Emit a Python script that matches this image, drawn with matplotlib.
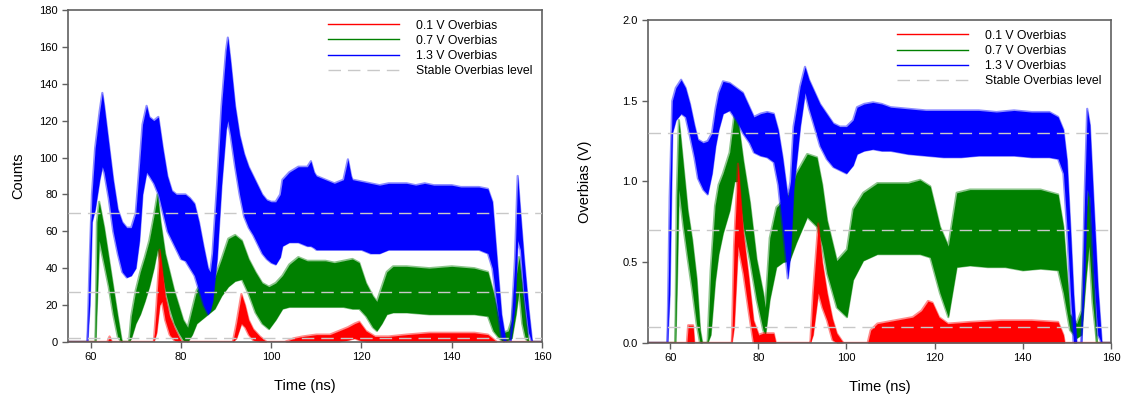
import matplotlib
matplotlib.use("Agg")
import matplotlib.pyplot as plt
from matplotlib.lines import Line2D

plt.rcParams['font.family'] = ['Liberation Sans', 'DejaVu Sans']

labels = ['0.1 V Overbias', '0.7 V Overbias', '1.3 V Overbias', 'Stable Overbias level']
colors = ['#ff0000', '#008000', '#0000ff']

# ---- left panel: counts (envelopes of the noisy traces, lower / upper) ----
t_c13 = [55, 59.3, 59.8, 60.3, 61, 62, 62.6, 63, 64, 65, 66, 67, 68, 69, 70, 70.8, 71.5, 72.4, 73, 74,
         75, 76, 77, 78, 79, 80, 81, 82, 83, 84, 85, 86, 86.5, 87, 88, 89, 90, 90.4, 91, 92,
         93, 94, 95, 96, 97, 98, 99, 100, 101, 102, 102.5, 104, 106, 108, 108.8, 109.5, 110, 112, 114, 116,
         117, 117.7, 118, 120, 122, 124, 126, 128, 130, 132, 134, 136, 138, 140, 142, 144, 146, 148, 149, 150,
         151, 152, 153, 154, 154.6, 155.2, 156, 157, 157.8, 160]
hi_c13 = [0, 0, 45, 80, 105, 125, 135, 128, 108, 88, 72, 65, 62, 62, 70, 95, 118, 128, 122, 120,
          122, 105, 90, 82, 80, 80, 80, 78, 75, 65, 52, 40, 38, 48, 85, 128, 158, 165, 152, 128,
          112, 102, 95, 90, 85, 80, 77, 76, 76, 80, 88, 92, 95, 95, 98, 92, 90, 88, 86, 88,
          99, 90, 88, 87, 86, 85, 86, 86, 86, 85, 86, 85, 85, 85, 84, 84, 84, 83, 76, 45,
          15, 0, 0, 45, 90, 70, 45, 18, 0, 0]
lo_c13 = [0, 0, 20, 65, 72, 88, 95, 92, 78, 60, 48, 38, 35, 36, 40, 55, 80, 92, 90, 86,
          80, 70, 60, 55, 50, 45, 44, 40, 36, 28, 20, 15, 17, 22, 45, 85, 115, 120, 112, 95,
          80, 68, 62, 58, 53, 48, 45, 43, 42, 46, 52, 54, 54, 52, 52, 51, 50, 50, 50, 50,
          50, 50, 50, 50, 48, 48, 50, 50, 50, 50, 50, 50, 50, 50, 50, 50, 50, 48, 40, 20,
          2, 0, 0, 20, 55, 50, 25, 5, 0, 0]

t_c07 = [55, 61.1, 61.4, 61.9, 63, 64, 65, 66, 66.8, 67, 68.5, 69, 70, 71, 72, 73, 74, 74.8, 75.5, 76.5,
         77.5, 78.5, 79.5, 80.5, 81.5, 82.5, 83.5, 84.5, 86, 87.5, 89, 90.5, 92, 93.5, 95, 96.5, 98, 99.5, 101, 102.5,
         104, 106, 108, 110, 112, 114, 116, 118, 119.5, 121, 122.5, 123.4, 124.5, 125.6, 127, 130, 135, 140, 145, 148,
         149.2, 150.5, 151.4, 152.5, 153.3, 154.2, 154.9, 155.6, 156.3, 157, 160]
hi_c07 = [0, 0, 65, 76, 62, 46, 30, 14, 2, 0, 0, 14, 28, 38, 46, 55, 68, 80, 65, 48,
          38, 28, 20, 12, 8, 18, 28, 32, 33, 35, 45, 56, 58, 55, 45, 38, 32, 30, 32, 36,
          42, 46, 44, 44, 44, 43, 44, 45, 43, 32, 25, 22, 30, 38, 41, 41, 40, 41, 40, 38,
          27, 12, 5, 6, 12, 35, 46, 30, 15, 0, 0]
lo_c07 = [0, 0, 20, 55, 42, 30, 15, 3, 0, 0, 0, 2, 10, 15, 22, 30, 40, 50, 42, 28,
          18, 10, 5, 1, 0, 4, 10, 12, 15, 18, 25, 30, 33, 34, 26, 16, 10, 7, 12, 18,
          19, 19, 19, 19, 19, 19, 19, 18, 18, 14, 8, 6, 10, 15, 16, 16, 15, 15, 15, 14,
          6, 2, 0, 1, 2, 15, 28, 10, 2, 0, 0]

t_c01 = [55, 63.7, 64.2, 64.7, 74, 74.6, 75.3, 75.8, 76.5, 77.5, 78.5, 79.5, 80.2, 91.5, 92.3, 93.4, 94.2, 95, 96, 97.5,
         99, 103, 105, 107, 110, 113, 115, 117, 118.5, 119.5, 121, 123, 126, 130, 135, 140, 145, 148, 149, 150, 160]
hi_c01 = [0, 0, 3, 0, 0, 20, 50, 40, 25, 14, 8, 3, 0, 0, 10, 26, 20, 12, 7, 3,
          0, 0, 2, 3, 4, 4, 6, 8, 10, 11, 6, 3, 3, 4, 5, 5, 5, 4, 2, 0, 0]
lo_c01 = [0, 0, 0, 0, 0, 5, 20, 22, 12, 4, 1, 0, 0, 0, 2, 10, 8, 4, 1, 0,
          0, 0, 0, 0, 0, 0, 0, 1, 2, 1, 0, 0, 0, 0, 0, 0, 0, 0, 0, 0, 0]

stable_counts = [2, 27, 70]

# ---- right panel: overbias (V) ----
t_v13 = [55, 59.4, 59.9, 60.5, 61.3, 62.5, 63.5, 64.5, 65.5, 66.3, 67.5, 68.5, 69.5, 70.3, 71, 72, 73.5, 75, 76.5, 78,
         79, 80.5, 82, 83.5, 84.5, 85.5, 86.7, 87.3, 88, 89.5, 90.6, 91.5, 92.5, 94, 95.5, 97, 98.5, 100, 101.5, 102.4,
         104, 106, 108, 110, 114, 118, 122, 126, 130, 134, 138, 142, 146, 148, 149.2, 150, 150.8, 151.5, 152.2, 153.3,
         154, 154.6, 155.2, 156, 157, 157.9, 160]
hi_v13 = [0, 0, 0.9, 1.5, 1.58, 1.63, 1.58, 1.48, 1.35, 1.26, 1.24, 1.25, 1.30, 1.45, 1.55, 1.62, 1.61, 1.58, 1.55, 1.46,
          1.40, 1.42, 1.43, 1.42, 1.32, 1.15, 0.90, 1.0, 1.34, 1.59, 1.71, 1.63, 1.57, 1.48, 1.42, 1.36, 1.34, 1.34, 1.38, 1.46,
          1.48, 1.49, 1.48, 1.46, 1.45, 1.44, 1.44, 1.44, 1.44, 1.43, 1.44, 1.43, 1.43, 1.40, 1.32, 1.13, 0.7, 0.3, 0, 0,
          0.9, 1.45, 1.35, 0.9, 0.35, 0, 0]
lo_v13 = [0, 0, 0.3, 1.3, 1.38, 1.42, 1.40, 1.28, 1.15, 1.02, 0.95, 0.92, 1.05, 1.22, 1.32, 1.42, 1.44, 1.38, 1.30, 1.24,
          1.18, 1.16, 1.15, 1.12, 0.98, 0.72, 0.40, 0.55, 0.95, 1.34, 1.55, 1.45, 1.36, 1.22, 1.14, 1.09, 1.07, 1.05, 1.10, 1.17,
          1.19, 1.20, 1.19, 1.19, 1.17, 1.16, 1.15, 1.15, 1.16, 1.16, 1.16, 1.15, 1.15, 1.14, 1.05, 0.72, 0.3, 0, 0, 0,
          0.4, 0.95, 0.9, 0.45, 0.05, 0, 0]

t_v07 = [55, 61.2, 61.5, 62, 63, 64, 65, 66, 66.8, 67.3, 68.5, 69.2, 70.2, 71, 72, 73.5, 74.6, 75.3, 76.6, 78.1,
         79.6, 81.1, 81.6, 82.6, 84.1, 85.6, 87.1, 88.6, 91.1, 93.3, 94.5, 95.6, 97.8, 100.1, 101.5, 103.8, 107, 111, 114, 116.7,
         119, 121.2, 123.1, 125, 128, 132, 136, 140, 144, 148, 149.2, 150.7, 152.2, 153.3, 154.3, 155, 155.8, 156.8, 160]
hi_v07 = [0, 0, 0.9, 1.38, 1.1, 0.82, 0.64, 0.4, 0.08, 0, 0, 0.45, 0.85, 0.98, 1.05, 1.18, 1.42, 1.40, 1.13, 0.87,
          0.52, 0.31, 0.22, 0.65, 0.84, 0.88, 0.93, 1.05, 1.17, 1.15, 0.98, 0.76, 0.51, 0.58, 0.83, 0.93, 0.99, 0.99, 0.99, 1.01,
          0.97, 0.72, 0.60, 0.93, 0.95, 0.95, 0.95, 0.95, 0.95, 0.92, 0.72, 0.18, 0.12, 0.2, 0.8, 1.03, 0.6, 0, 0]
lo_v07 = [0, 0, 0.3, 0.95, 0.72, 0.52, 0.33, 0.12, 0, 0, 0, 0.05, 0.38, 0.55, 0.68, 0.82, 1.0, 1.0, 0.72, 0.51,
          0.27, 0.08, 0.05, 0.27, 0.47, 0.50, 0.51, 0.62, 0.78, 0.72, 0.60, 0.43, 0.22, 0.16, 0.39, 0.51, 0.55, 0.55, 0.55, 0.55,
          0.53, 0.31, 0.16, 0.47, 0.48, 0.47, 0.47, 0.45, 0.46, 0.45, 0.31, 0.08, 0.03, 0.05, 0.4, 0.6, 0.25, 0, 0]

t_v01 = [55, 63.8, 64.1, 65.2, 65.5, 74.0, 74.5, 75.4, 76.6, 77.8, 78.9, 80.1, 81, 83.5, 84, 91.8, 92.4, 93.6, 94.5, 95.6,
         96.8, 97.8, 99.3, 104.8, 105.5, 107, 111, 115, 117, 118.5, 119.5, 121, 123, 128, 135, 142, 148, 149.2, 149.5, 160]
hi_v01 = [0, 0, 0.11, 0.11, 0, 0, 0.6, 1.11, 0.68, 0.41, 0.14, 0.05, 0.06, 0.06, 0, 0, 0.3, 0.74, 0.5, 0.31,
          0.15, 0.06, 0, 0, 0.08, 0.12, 0.14, 0.16, 0.2, 0.26, 0.25, 0.16, 0.12, 0.13, 0.14, 0.14, 0.13, 0.05, 0, 0]
lo_v01 = [0, 0, 0, 0, 0, 0, 0.1, 0.6, 0.43, 0.2, 0, 0, 0, 0, 0, 0, 0.05, 0.31, 0.22, 0.14,
          0.02, 0, 0, 0, 0, 0, 0, 0, 0, 0, 0, 0, 0, 0, 0, 0, 0, 0, 0, 0]

stable_volts = [0.1, 0.7, 1.3]

stable_color = '#c8c8c8'
spine_color = '#606060'


def draw_trace(ax, t, lo, hi, color):
    # solid band plus a soft, semi-transparent fringe like the noisy edge of the trace
    ax.fill_between(t, lo, hi, color=color, lw=0, zorder=2)
    ax.plot(t, hi, color=color, lw=1.6, alpha=0.45, zorder=2)
    ax.plot(t, lo, color=color, lw=1.6, alpha=0.45, zorder=2)


def style_axes(ax):
    for s in ax.spines.values():
        s.set_color(spine_color)
        s.set_linewidth(1.2)
    ax.tick_params(direction='out', length=4, width=1, color=spine_color, labelsize=8)
    ax.set_xlim(55, 160)
    ax.set_xticks([60, 80, 100, 120, 140, 160])
    ax.set_xlabel('Time (ns)', fontsize=10.5, labelpad=12)


def add_legend(ax, fs):
    handles = [Line2D([], [], color=c, lw=1) for c in colors]
    handles.append(Line2D([], [], color=stable_color, lw=1, dashes=(9, 5)))
    ax.legend(handles, labels, loc='upper right', frameon=False, fontsize=fs,
              handlelength=5.8, handletextpad=1.4, labelspacing=0.25, borderaxespad=0.4)


fig = plt.figure(figsize=(11.3, 4.03), dpi=100)

ax1 = fig.add_axes([0.0602, 0.1514, 0.4195, 0.824])
draw_trace(ax1, t_c07, lo_c07, hi_c07, colors[1])
draw_trace(ax1, t_c13, lo_c13, hi_c13, colors[2])
draw_trace(ax1, t_c01, lo_c01, hi_c01, colors[0])
for v in stable_counts:
    ax1.axhline(v, color=stable_color, lw=1, dashes=(9, 5), zorder=3)
style_axes(ax1)
ax1.set_ylim(0, 180)
ax1.set_yticks(range(0, 181, 20))
ax1.set_ylabel('Counts', fontsize=10.5, labelpad=10)
add_legend(ax1, 8.8)

ax2 = fig.add_axes([0.5735, 0.1489, 0.4097, 0.8015])
draw_trace(ax2, t_v07, lo_v07, hi_v07, colors[1])
draw_trace(ax2, t_v13, lo_v13, hi_v13, colors[2])
draw_trace(ax2, t_v01, lo_v01, hi_v01, colors[0])
for v in stable_volts:
    ax2.axhline(v, color=stable_color, lw=1, dashes=(9, 5), zorder=3)
style_axes(ax2)
ax2.set_ylim(0, 2.0)
ax2.set_yticks([0.0, 0.5, 1.0, 1.5, 2.0])
ax2.set_yticklabels(['0.0', '0.5', '1.0', '1.5', '2.0'])
ax2.set_ylabel('Overbias (V)', fontsize=10.5, labelpad=22)
add_legend(ax2, 8.8)

fig.savefig('out.png', dpi=100)
